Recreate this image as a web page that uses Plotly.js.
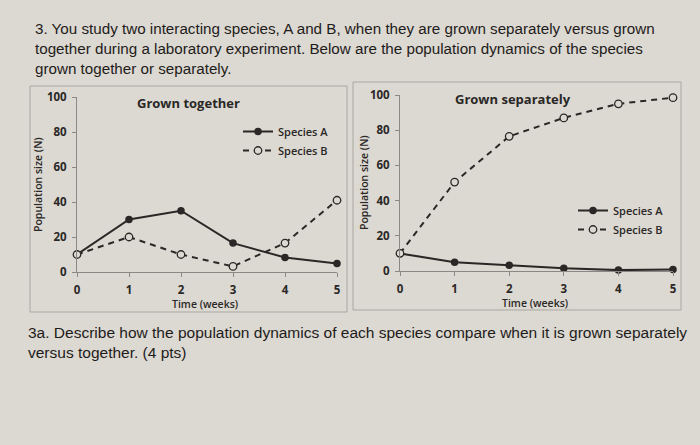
<!DOCTYPE html>
<html><head><meta charset="utf-8">
<script src="https://cdn.plot.ly/plotly-3.0.1.min.js"></script>
<style>html,body{margin:0;padding:0;background:#dcd8d2}</style>
</head><body>
<div id="chart" style="width:700px;height:445px"></div>
<script>
const weeks = [0, 1, 2, 3, 4, 5];
const togetherA = [10, 30, 35, 16.5, 8.3, 4.9];
const togetherB = [10, 20, 10, 3.2, 16.5, 41];
const separateA = [10, 5, 3.3, 1.5, 0.5, 0.8];
const separateB = [10, 50.5, 76.5, 87, 95, 98.5];
const yTicks = [0, 20, 40, 60, 80, 100];
const seriesNames = ['Species A', 'Species B'];
const panelTitles = ['Grown together', 'Grown separately'];
const questionText = '3. You study two interacting species, A and B, when they are grown separately versus grown<br>together during a laboratory experiment. Below are the population dynamics of the species<br>grown together or separately.';
const promptText = '3a. Describe how the population dynamics of each species compare when it is grown separately<br>versus together. (4 pts)';

const bg = '#dcd8d2';
const ink = '#2a2826';
const fontC = 'Open Sans, Lato, sans-serif';
const lineA = {color: ink, width: 2};
const lineB = {color: ink, width: 2, dash: '6px,5px'};
const mA = {symbol: 'circle', size: 7.5, color: ink};
const mB = {symbol: 'circle', size: 7.5, color: bg, line: {width: 1.3, color: ink}};

const traces = [
  {x: weeks, y: togetherA, name: seriesNames[0], mode: 'lines+markers', line: lineA, marker: mA, xaxis: 'x', yaxis: 'y', legend: 'legend', cliponaxis: false},
  {x: weeks, y: togetherB, name: seriesNames[1], mode: 'lines+markers', line: lineB, marker: mB, xaxis: 'x', yaxis: 'y', legend: 'legend', cliponaxis: false},
  {x: weeks, y: separateA, name: seriesNames[0], mode: 'lines+markers', line: lineA, marker: mA, xaxis: 'x2', yaxis: 'y2', legend: 'legend2', cliponaxis: false},
  {x: weeks, y: separateB, name: seriesNames[1], mode: 'lines+markers', line: lineB, marker: mB, xaxis: 'x2', yaxis: 'y2', legend: 'legend2', cliponaxis: false}
];

const tickFont = {family: fontC, size: 11.5, color: ink, weight: 700};
const xax = d => ({domain: d, range: [0, 5], tickvals: weeks, showgrid: false, zeroline: false,
  showline: true, linecolor: '#8a8784', linewidth: 1, ticks: 'outside', ticklen: 4, tickcolor: '#8a8784',
  ticklabelstandoff: 3, tickfont: tickFont, fixedrange: true});
const yax = d => ({domain: d, range: [0, 100], tickvals: yTicks, showgrid: false, zeroline: false,
  showline: true, linecolor: '#8a8784', linewidth: 1, ticks: 'outside', ticklen: 4, tickcolor: '#8a8784',
  ticklabelstandoff: 3, tickfont: tickFont, fixedrange: true});

const legendBase = {font: {family: fontC, size: 11, color: ink, weight: 600}, bgcolor: 'rgba(0,0,0,0)',
  xref: 'paper', yref: 'paper', xanchor: 'left', yanchor: 'top', tracegroupgap: 0, itemwidth: 30};

const ann = [
  {text: questionText, x: 33/700, y: 1 - 18/445, xanchor: 'left', yanchor: 'top', align: 'left',
   font: {family: 'Liberation Sans, Arial, sans-serif', size: 15.2, color: '#1e1c1a'}},
  {text: promptText, x: 26/700, y: 1 - 322/445, xanchor: 'left', yanchor: 'top', align: 'left',
   font: {family: 'Liberation Sans, Arial, sans-serif', size: 15.5, color: '#1e1c1a'}},
  {text: panelTitles[0], x: 188/700, y: 1 - 103/445, xanchor: 'center', yanchor: 'middle',
   font: {family: fontC, size: 13, color: ink, weight: 700}},
  {text: panelTitles[1], x: 513/700, y: 1 - 99/445, xanchor: 'center', yanchor: 'middle',
   font: {family: fontC, size: 13, color: ink, weight: 700}},
  {text: 'Time (weeks)', x: 205/700, y: 1 - 304/445, xanchor: 'center', yanchor: 'middle',
   font: {family: fontC, size: 10.5, color: ink, weight: 600}},
  {text: 'Time (weeks)', x: 535/700, y: 1 - 303/445, xanchor: 'center', yanchor: 'middle',
   font: {family: fontC, size: 10.5, color: ink, weight: 600}},
  {text: 'Population size (N)', x: 38/700, y: 1 - 185/445, xanchor: 'center', yanchor: 'middle', textangle: -90,
   font: {family: fontC, size: 10.5, color: ink, weight: 600}},
  {text: 'Population size (N)', x: 364/700, y: 1 - 183/445, xanchor: 'center', yanchor: 'middle', textangle: -90,
   font: {family: fontC, size: 10.5, color: ink, weight: 600}}
].map(a => Object.assign({xref: 'paper', yref: 'paper', showarrow: false}, a));

const boxLine = {color: '#aaa6a1', width: 1};
const shapes = [
  {type: 'rect', xref: 'paper', yref: 'paper', x0: 30/700, x1: 347/700, y0: 1 - 312/445, y1: 1 - 86/445, line: boxLine, layer: 'below'},
  {type: 'rect', xref: 'paper', yref: 'paper', x0: 353/700, x1: 681/700, y0: 1 - 310/445, y1: 1 - 82/445, line: boxLine, layer: 'below'}
];

const layout = {
  width: 700, height: 445, margin: {l: 0, r: 0, t: 0, b: 0},
  paper_bgcolor: bg, plot_bgcolor: 'rgba(0,0,0,0)',
  showlegend: true,
  xaxis: Object.assign(xax([77/700, 337/700]), {anchor: 'y'}), yaxis: Object.assign(yax([173/445, 348/445]), {anchor: 'x'}),
  xaxis2: Object.assign(xax([400/700, 673/700]), {anchor: 'y2'}), yaxis2: Object.assign(yax([174/445, 350/445]), {anchor: 'x2'}),
  legend: Object.assign({}, legendBase, {x: 238/700, y: 1 - 117/445}),
  legend2: Object.assign({}, legendBase, {x: 573/700, y: 1 - 196/445}),
  annotations: ann, shapes: shapes
};

Plotly.newPlot('chart', traces, layout, {displayModeBar: false, staticPlot: true});
</script>
</body></html>
